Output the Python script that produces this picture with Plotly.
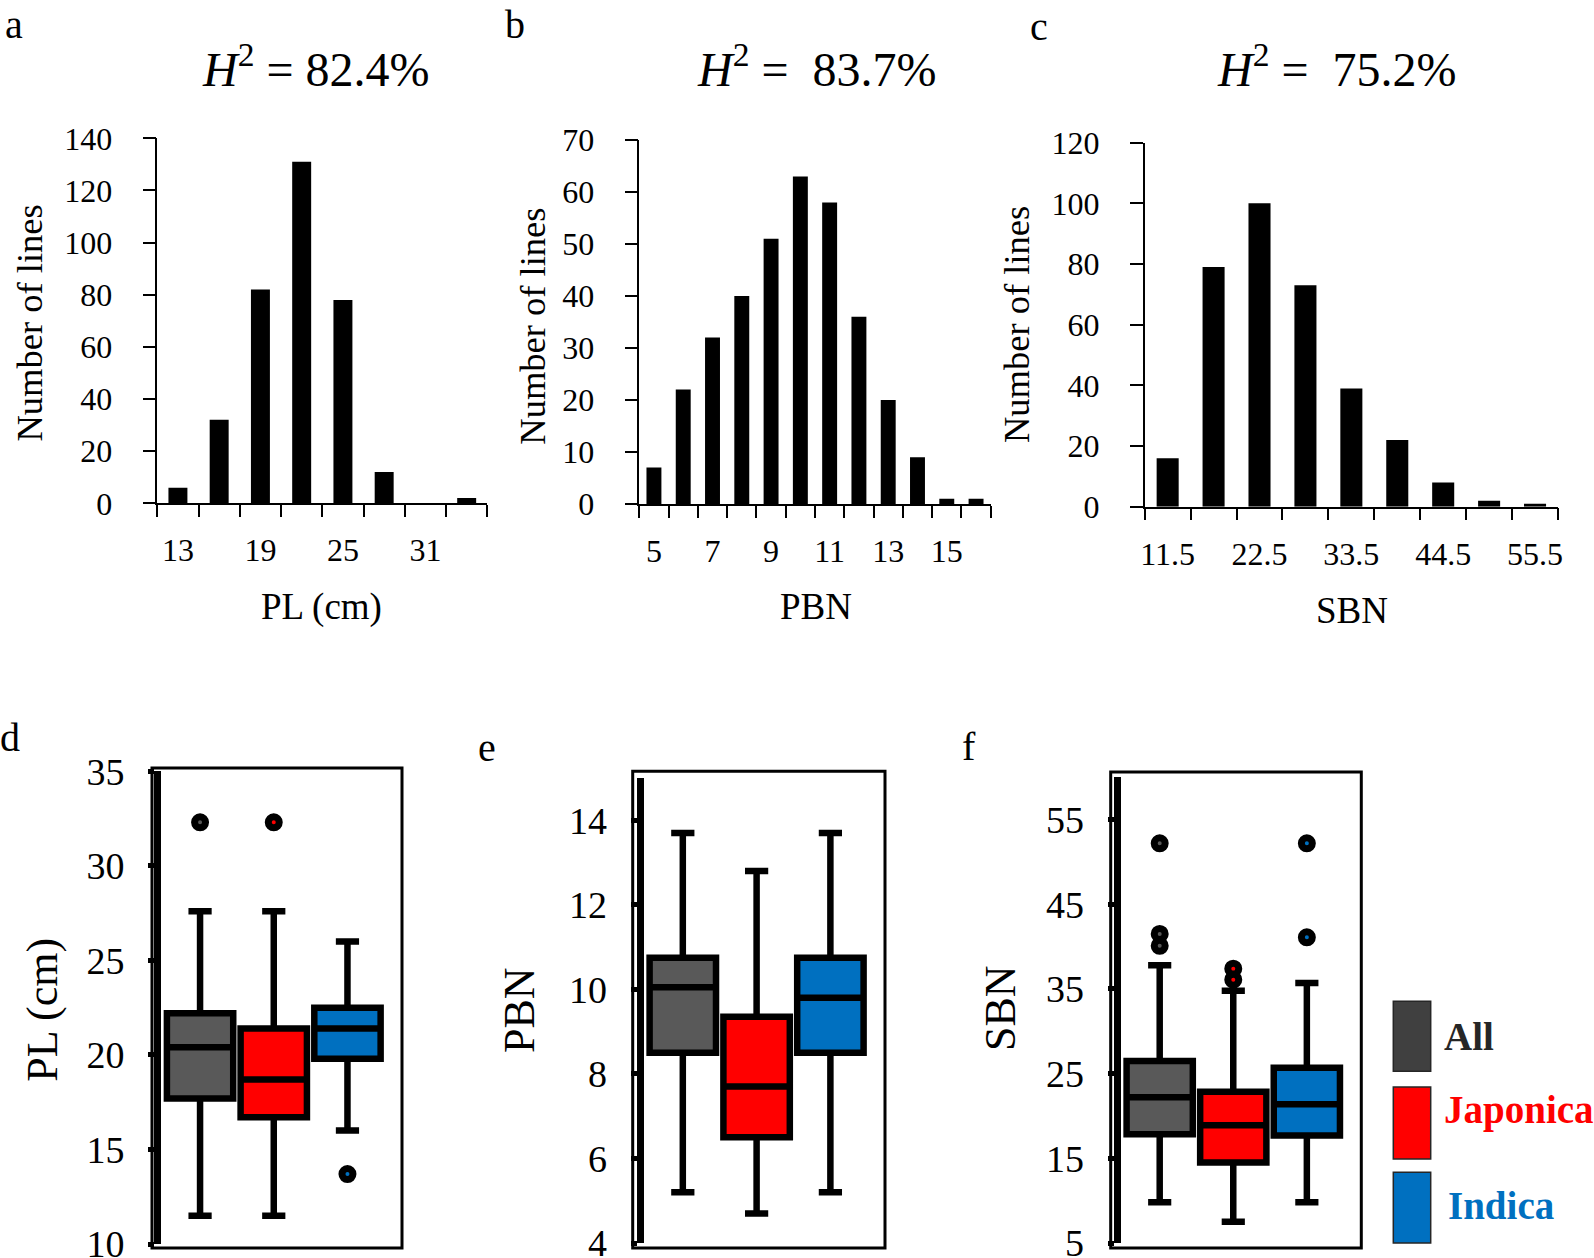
import plotly.graph_objects as go

W, H = 1594, 1258
FONT = "Liberation Serif, Times New Roman, serif"

# ---------------- data ----------------
PL_BINS = [13, 16, 19, 22, 25, 28, 31, 34]
PL_COUNTS = [6, 32, 82, 131, 78, 12, 0, 2]
PL_TICKS = [13, 19, 25, 31]

PBN_BINS = [5, 6, 7, 8, 9, 10, 11, 12, 13, 14, 15, 16]
PBN_COUNTS = [7, 22, 32, 40, 51, 63, 58, 36, 20, 9, 1, 1]
PBN_TICKS = [5, 7, 9, 11, 13, 15]

SBN_BINS = [11.5, 17, 22.5, 28, 33.5, 39, 44.5, 50, 55.5]
SBN_COUNTS = [16, 79, 100, 73, 39, 22, 8, 2, 1]
SBN_TICKS = [11.5, 22.5, 33.5, 44.5, 55.5]

HERIT = ["82.4%", "83.7%", "75.2%"]

GROUPS = ["All", "Japonica", "Indica"]
GROUP_COLORS = ["#595959", "#FF0000", "#0070C0"]
LEGEND_FILL = ["#404040", "#FF0000", "#0070C0"]
LEGEND_TEXT = ["#262626", "#FF0000", "#0070C0"]

PL_Q1 = [17.7, 16.7, 19.8]
PL_MED = [20.4, 18.7, 21.4]
PL_Q3 = [22.2, 21.4, 22.5]
PL_LO = [11.5, 11.5, 16.0]
PL_HI = [27.6, 27.6, 26.0]
PL_OUT = [[32.3], [32.3], [13.7]]

PBN_Q1 = [8.5, 6.5, 8.5]
PBN_MED = [10.05, 7.7, 9.8]
PBN_Q3 = [10.75, 9.35, 10.75]
PBN_LO = [5.2, 4.7, 5.2]
PBN_HI = [13.7, 12.8, 13.7]
PBN_OUT = [[], [], []]

SBN_Q1 = [17.85, 14.5, 17.7]
SBN_MED = [22.2, 18.9, 21.4]
SBN_Q3 = [26.5, 22.85, 25.7]
SBN_LO = [9.8, 7.5, 9.8]
SBN_HI = [37.8, 34.8, 35.7]
SBN_OUT = [[52.2, 41.5, 40.1], [37.4, 36.1], [52.2, 41.1]]


def fx(p):
    return p / W


def fy(p):
    return 1 - p / H


fig = go.Figure()
layout_axes = {}
annotations = []
shapes = []

# ---------------- histograms (a, b, c) ----------------
hists = [
    dict(bins=PL_BINS, counts=PL_COUNTS, ticks=PL_TICKS, step=3, frac=0.46,
         xd=(157.3, 487.3), yd=(138.3, 503.3), ymax=140, dt=20, xtitle="PL (cm)",
         xt=(321.7, 607), yt=(28.5, 323), title=(316, 66), letter=("a", 14, 0)),
    dict(bins=PBN_BINS, counts=PBN_COUNTS, ticks=PBN_TICKS, step=1, frac=0.51,
         xd=(639.3, 990.7), yd=(140, 504), ymax=70, dt=10, xtitle="PBN",
         xt=(815.8, 606), yt=(531.7, 326), title=(816.7, 66), letter=("b", 515, 0)),
    dict(bins=SBN_BINS, counts=SBN_COUNTS, ticks=SBN_TICKS, step=5.5, frac=0.48,
         xd=(1144.7, 1558), yd=(142.7, 506.7), ymax=120, dt=20, xtitle="SBN",
         xt=(1352, 610), yt=(1017, 325), title=(1337, 66), letter=("c", 1039, 2)),
]

titles_txt = [
    "<i>H</i><sup>2</sup> = " + HERIT[0],
    "<i>H</i><sup>2</sup> =\u00a0 " + HERIT[1],
    "<i>H</i><sup>2</sup> =\u00a0 " + HERIT[2],
]

for i, h in enumerate(hists):
    n = i + 1
    xa = "x" if n == 1 else f"x{n}"
    ya = "y" if n == 1 else f"y{n}"
    xkey = "xaxis" if n == 1 else f"xaxis{n}"
    ykey = "yaxis" if n == 1 else f"yaxis{n}"
    step = h["step"]
    bins = h["bins"]
    fig.add_trace(go.Bar(x=bins, y=h["counts"], width=step * h["frac"],
                         marker=dict(color="black", line=dict(width=0)),
                         xaxis=xa, yaxis=ya, showlegend=False))
    bounds = [b - step / 2 for b in bins] + [bins[-1] + step / 2]
    layout_axes[xkey] = dict(
        domain=[fx(h["xd"][0]), fx(h["xd"][1])], anchor=ya,
        range=[bounds[0], bounds[-1]], automargin=False,
        tickmode="array", tickvals=h["ticks"], ticktext=[str(t) for t in h["ticks"]],
        ticks="", showline=True, linecolor="black", linewidth=1.5,
        showgrid=False, zeroline=False, ticklabeloverflow="allow",
        minor=dict(tickmode="array", tickvals=bounds, ticks="outside", ticklen=12,
                   tickwidth=1.5, tickcolor="black", showgrid=False),
        tickfont=dict(family=FONT, size=32, color="black"),
        ticklabelstandoff=18,
    )
    layout_axes[ykey] = dict(
        domain=[fy(h["yd"][1]), fy(h["yd"][0])], anchor=xa,
        range=[0, h["ymax"]], dtick=h["dt"], tick0=0, automargin=False,
        ticks="outside", ticklen=13, tickwidth=1.5, tickcolor="black",
        showline=True, linecolor="black", linewidth=1.5,
        showgrid=False, zeroline=False, ticklabeloverflow="allow",
        tickfont=dict(family=FONT, size=32, color="black"),
        ticklabelstandoff=24,
    )
    annotations.append(dict(text=titles_txt[i], x=fx(h["title"][0]), y=fy(h["title"][1]),
                            xref="paper", yref="paper", xanchor="center", yanchor="middle",
                            showarrow=False, font=dict(family=FONT, size=48, color="black")))
    annotations.append(dict(text=h["xtitle"], x=fx(h["xt"][0]), y=fy(h["xt"][1]),
                            xref="paper", yref="paper", xanchor="center", yanchor="middle",
                            showarrow=False, font=dict(family=FONT, size=37, color="black")))
    annotations.append(dict(text="Number of lines", x=fx(h["yt"][0]), y=fy(h["yt"][1]),
                            xref="paper", yref="paper", xanchor="center", yanchor="middle",
                            textangle=-90, showarrow=False,
                            font=dict(family=FONT, size=36.5, color="black")))
    lt, lx, ly = h["letter"]
    annotations.append(dict(text=lt, x=fx(lx), y=fy(ly), xref="paper", yref="paper",
                            xanchor="center", yanchor="top", showarrow=False,
                            font=dict(family=FONT, size=40, color="black")))

# ---------------- box plots (d, e, f) ----------------
boxes = [
    dict(q1=PL_Q1, med=PL_MED, q3=PL_Q3, lo=PL_LO, hi=PL_HI, out=PL_OUT,
         yr=(10, 35), dt=5, xd=(161, 402), yd=(771.3, 1244),
         frame=(152, 768, 402, 1248), ytitle="PL (cm)", yt=(41.7, 1010),
         letter=("d", 10, 737)),
    dict(q1=PBN_Q1, med=PBN_MED, q3=PBN_Q3, lo=PBN_LO, hi=PBN_HI, out=PBN_OUT,
         yr=(4, 15), dt=2, xd=(643.7, 885), yd=(778, 1243),
         frame=(632.7, 771.3, 885, 1248), ytitle="PBN", yt=(519, 1010),
         letter=("e", 487, 747)),
    dict(q1=SBN_Q1, med=SBN_MED, q3=SBN_Q3, lo=SBN_LO, hi=SBN_HI, out=SBN_OUT,
         yr=(5, 60), dt=10, xd=(1120.7, 1361.3), yd=(777.3, 1243),
         frame=(1110.7, 772, 1361.3, 1248), ytitle="SBN", yt=(1000, 1008),
         letter=("f", 969, 746)),
]

for i, b in enumerate(boxes):
    n = i + 4
    xa, ya = f"x{n}", f"y{n}"
    for g, grp in enumerate(GROUPS):
        fig.add_trace(go.Box(
            x=[grp], q1=[b["q1"][g]], median=[b["med"][g]], q3=[b["q3"][g]],
            lowerfence=[b["lo"][g]], upperfence=[b["hi"][g]],
            width=0.9, whiskerwidth=0.35, fillcolor=GROUP_COLORS[g],
            line=dict(color="black", width=6.5), boxpoints=False,
            xaxis=xa, yaxis=ya, showlegend=False, name=grp))
        if b["out"][g]:
            fig.add_trace(go.Scatter(
                x=[grp] * len(b["out"][g]), y=b["out"][g], mode="markers",
                marker=dict(symbol="circle", size=11, color=GROUP_COLORS[g],
                            line=dict(color="black", width=7)),
                xaxis=xa, yaxis=ya, showlegend=False))
    layout_axes[f"xaxis{n}"] = dict(
        domain=[fx(b["xd"][0]), fx(b["xd"][1])], anchor=ya, automargin=False,
        type="category", categoryorder="array", categoryarray=GROUPS,
        range=[-0.53, 2.74], showticklabels=False, ticks="", showline=False,
        showgrid=False, zeroline=False)
    layout_axes[f"yaxis{n}"] = dict(
        domain=[fy(b["yd"][1]), fy(b["yd"][0])], anchor=xa, automargin=False,
        range=list(b["yr"]), dtick=b["dt"], tick0=b["yr"][0],
        ticks="outside", ticklen=6, tickwidth=5, tickcolor="black",
        showline=True, linecolor="black", linewidth=7,
        showgrid=False, zeroline=False, ticklabeloverflow="allow",
        tickfont=dict(family=FONT, size=38, color="black"),
        ticklabelstandoff=16)
    x0, y0, x1, y1 = b["frame"]
    shapes.append(dict(type="rect", xref="paper", yref="paper",
                       x0=fx(x0), x1=fx(x1), y0=fy(y1), y1=fy(y0),
                       line=dict(color="black", width=3), fillcolor="rgba(0,0,0,0)"))
    annotations.append(dict(text=b["ytitle"], x=fx(b["yt"][0]), y=fy(b["yt"][1]),
                            xref="paper", yref="paper", xanchor="center", yanchor="middle",
                            textangle=-90, showarrow=False,
                            font=dict(family=FONT, size=44, color="black")))
    lt, lx, ly = b["letter"]
    annotations.append(dict(text=lt, x=fx(lx), y=fy(ly), xref="paper", yref="paper",
                            xanchor="center", yanchor="middle", showarrow=False,
                            font=dict(family=FONT, size=40, color="black")))

# ---------------- legend (swatches + bold labels) ----------------
LEG_BOXES = [(1001.3, 1071.3), (1087, 1159), (1172.3, 1243)]
LEG_TEXT_POS = [(1442.3, 1036), (1442.3, 1110), (1445.7, 1205)]
for g, grp in enumerate(GROUPS):
    ya0, ya1 = LEG_BOXES[g]
    shapes.append(dict(type="rect", xref="paper", yref="paper",
                       x0=fx(1393.3), x1=fx(1430.7), y0=fy(ya1), y1=fy(ya0),
                       line=dict(color="#262626", width=1.5), fillcolor=LEGEND_FILL[g]))
    tx, ty = LEG_TEXT_POS[g]
    annotations.append(dict(text=f"<b>{grp}</b>", x=fx(tx), y=fy(ty), xref="paper",
                            yref="paper", xanchor="left", yanchor="middle", showarrow=False,
                            font=dict(family=FONT, size=39, color=LEGEND_TEXT[g])))

fig.update_layout(
    width=W, height=H, autosize=False,
    margin=dict(l=0, r=0, t=0, b=0, pad=0, autoexpand=False),
    paper_bgcolor="white", plot_bgcolor="white",
    showlegend=False, boxmode="overlay",
    annotations=annotations, shapes=shapes,
    **layout_axes,
)

fig.write_html("out.html", config={"displayModeBar": False},
               post_script="document.body.style.margin='0';document.body.style.overflow='hidden';")
